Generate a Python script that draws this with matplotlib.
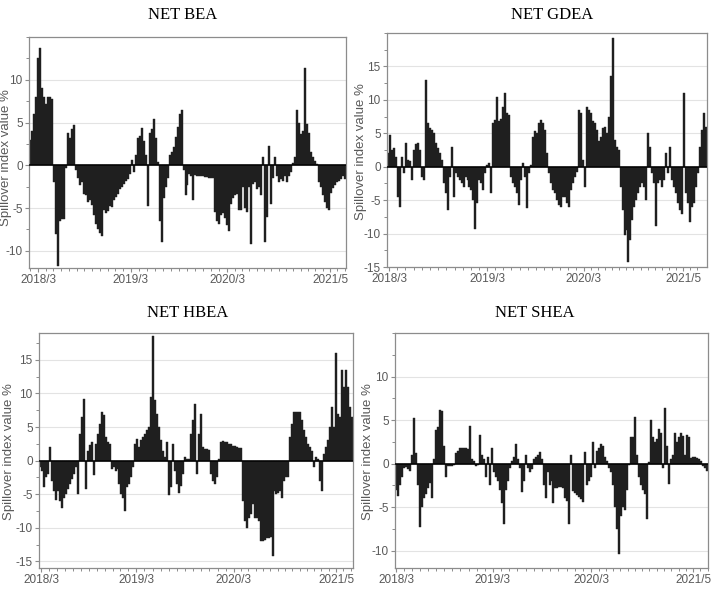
import matplotlib
matplotlib.use("Agg")
import matplotlib.pyplot as plt
import numpy as np
from matplotlib.ticker import MultipleLocator, FixedLocator

# net spillover values, one value per ~2 px column
bea = [3, 4, 6, 8, 12.5, 13.7, 9, 8, 7.2, 8, 8, 7.8, -2, -8, -11.8, -6.5, -6.3, -6.3, -0.3, 3.8,
       3.2, 4.3, 4.7, -0.5, -1.5, -2.3, -2.0, -3.3, -3.5, -4.3, -4.0, -4.6, -5.8, -6.8, -7.4, -7.9, -8.3, -5.2, -5.6, -5.3,
       -4.8, -4.9, -4.0, -3.7, -3.3, -2.8, -2.5, -2.2, -1.8, -1.6, -1.0, 0.6, -0.8, 1.2, 3.2, 3.4, 4.4, 2.8, 1.2, -4.7,
       3.8, 4.3, 5.4, 3.2, 0.4, -6.5, -9.0, -3.8, -2.5, -1.5, 1.2, 1.5, 2.2, 3.3, 4.5, 6.0, 6.5, -0.6, -3.5, -2.3,
       -1.0, -1.2, -4.0, -1.1, -1.2, -1.2, -1.3, -1.3, -1.4, -1.4, -1.5, -1.5, -1.5, -5.5, -6.5, -6.8, -5.8, -5.6, -6.2, -7.0,
       -7.7, -4.5, -3.8, -3.5, -3.3, -5.2, -5.2, -2.5, -5.0, -5.5, -2.5, -9.2, -2.2, -2.0, -2.8, -2.5, -3.5, 1.0, -9.0, -6.0,
       2.3, -4.5, -1.5, 1.0, -1.3, -2.0, -1.6, -1.8, -1.2, -2.0, -1.3, -0.8, 0.3, 1.0, 6.5, 5.0, 3.7, 4.0, 11.4, 4.8,
       3.8, 1.5, 1.0, 0.5, 0.2, -2.0, -2.5, -3.5, -4.3, -5.0, -5.2, -3.2, -2.7, -2.3, -2.0, -1.8, -1.6, -1.3, -1.6]

gdea = [2.0, 4.8, 2.5, 2.8, 1.5, -4.5, -6.0, 1.5, -1.0, 3.5, 1.0, 0.8, -2.0, 2.5, 3.4, 3.5, 2.5, -1.5, -2.0, 13.0,
        6.5, 5.8, 5.5, 5.0, 3.5, 2.8, 2.0, 1.0, -2.5, -4.0, -6.4, -1.5, 3.0, -4.5, -1.0, -1.5, -2.0, -2.5, -3.0, -1.5,
        -2.0, -3.0, -3.5, -5.0, -9.3, -5.5, -2.0, -2.5, -3.5, -1.0, 0.3, 0.5, -4.0, 6.5, 7.0, 10.5, 6.8, 7.2, 9.0, 11.0,
        8.0, 7.8, -1.5, -2.5, -3.0, -4.0, -5.8, -2.0, 0.5, -1.5, -6.2, -1.0, 0.3, 4.5, 5.3, 5.0, 6.5, 7.0, 6.5, 5.5,
        2.0, -1.0, -2.5, -3.5, -4.0, -5.0, -5.8, -6.0, -4.5, -4.5, -5.5, -6.0, -3.5, -2.5, -1.5, -0.8, 8.5, 8.0, 1.0, -3.1,
        9.0, 8.5, 8.0, 6.8, 6.5, 5.5, 3.8, 4.5, 5.8, 6.0, 5.0, 7.5, 13.5, 19.2, 4.0, 3.0, 2.5, -3.0, -6.5, -10.2,
        -9.5, -14.2, -11.0, -8.0, -6.0, -5.0, -4.0, -3.0, -2.5, -3.0, -5.0, 5.0, 3.0, -1.0, -2.5, -8.9, -2.5, -2.0, -3.0, -2.0,
        2.0, -1.0, 3.0, -2.0, -3.0, -4.0, -5.5, -6.5, -7.0, 11.1, -4.0, -5.5, -8.2, -6.0, -5.5, -3.0, -1.0, 3.0, 5.5, 8.0,
        6.0]

hbea = [-1.0, -1.5, -4.0, -2.5, -2.0, 2.0, -3.0, -4.5, -5.8, -4.5, -6.0, -7.0, -5.5, -5.0, -4.3, -3.5, -2.8, -2.0, -1.0, -5.0,
        4.0, 6.5, 9.2, -4.3, 1.5, 2.3, 2.8, -2.2, 2.5, 4.0, 5.5, 7.2, 6.8, 3.5, 2.8, 2.5, -1.3, -1.0, -1.5, -1.2,
        -3.5, -5.0, -5.5, -7.5, -4.0, -3.5, -2.5, -1.0, 2.5, 3.2, 2.0, 3.0, 3.5, 4.0, 4.5, 5.0, 9.5, 18.6, 9.0, 7.0,
        5.0, 3.0, 1.5, 0.5, 2.8, -5.2, -4.0, 2.5, -1.5, -3.5, -4.8, -3.8, -2.0, 0.5, 0.3, 0.3, 4.0, 6.0, 8.5, -2.0,
        4.0, 7.0, 2.0, 1.7, 1.7, 1.6, -2.0, -3.0, -3.5, -2.5, 0.3, 2.8, 2.9, 2.8, 2.7, 2.5, 2.4, 2.2, 2.1, 2.0,
        1.9, 1.8, -6.0, -9.0, -10.0, -8.5, -8.0, -6.5, -8.5, -8.5, -9.0, -12.0, -12.0, -11.8, -11.6, -11.5, -11.4, -14.2, -4.5, -5.0,
        -4.8, -4.5, -5.5, -3.0, -2.5, -2.5, 3.5, 5.5, 7.3, 7.3, 7.3, 7.3, 6.0, 4.5, 3.5, 2.5, 2.0, 1.5, -1.0, 0.5,
        0.3, -3.0, -4.5, 1.0, 2.0, 3.0, 5.0, 8.0, 5.0, 16.0, 7.0, 6.5, 13.5, 11.0, 13.5, 11.0, 8.0, 6.5]

shea = [-3.0, -3.7, -2.5, -1.5, -0.5, -0.4, -0.6, -0.9, 1.0, 5.2, 1.2, -2.5, -7.3, -5.0, -4.0, -3.5, -2.8, -2.2, -4.0, 0.5,
        3.8, 4.2, 6.1, 6.0, 2.0, -1.5, -0.3, -0.3, -0.3, -0.2, 1.2, 1.5, 1.8, 1.8, 1.8, 1.8, 1.7, 4.3, 0.5, 0.3,
        -0.3, -0.2, 3.3, 1.0, 0.5, -1.5, 0.8, -2.5, 1.8, -1.0, -1.5, -2.0, -3.0, -4.5, -7.0, -3.0, -2.0, -0.5, 0.3, 0.8,
        2.3, 0.5, -0.5, -3.3, -2.0, 1.0, -0.5, -1.0, -0.6, 0.5, 0.8, 1.0, 1.3, 0.5, -2.5, -4.0, -1.0, -2.5, -2.0, -4.5,
        -2.8, -2.8, -2.7, -2.7, -2.8, -4.0, -4.3, -7.0, 1.0, -3.2, -3.4, -3.6, -3.8, -4.1, -4.4, 1.3, -2.5, -2.0, -1.5, 2.5,
        -0.5, 1.5, 1.8, 2.2, 2.0, 0.8, 0.3, -0.5, -1.0, -2.5, -5.0, -7.5, -10.4, -6.0, -5.0, -5.3, -3.0, -0.2, 3.0, 3.0,
        5.3, 1.0, -1.5, -2.5, -3.0, -3.5, -6.4, 0.2, 5.0, 3.0, 2.5, 2.8, 4.0, 3.5, -0.5, 6.4, 2.0, -2.3, 0.5, 1.0,
        3.5, 2.5, 3.0, 3.5, 3.2, 1.0, 3.3, 3.0, 0.6, 0.7, 0.8, 0.6, 0.5, 0.3, -0.3, -0.5, -0.8]

titles = ["NET BEA", "NET GDEA", "NET HBEA", "NET SHEA"]
date_labels = ["2018/3", "2019/3", "2020/3", "2021/5"]
month_gaps = [12, 12, 14]

W, H = 713, 594
# axes boxes in pixels: left, top, right, bottom
boxes = [(29, 37, 346, 268), (387, 33, 707, 267), (39, 333, 353, 568), (395, 333, 708, 568)]
label_pos = [[4, 50.5, 99, 150.5], [0.5, 50, 98.5, 148.5], [0.5, 48.5, 97.5, 149], [0, 48.5, 98, 149]]
ylims = [(-12, 15), (-15, 20), (-16, 19), (-12, 15)]
ymaj = [[-10, -5, 0, 5, 10], [-15, -10, -5, 0, 5, 10, 15], [-15, -10, -5, 0, 5, 10, 15], [-10, -5, 0, 5, 10]]
title_xy = [(183, 15), (552, 15), (188, 313), (535, 313)]
ylab_xy = [(6, 158), (361, 152), (9, 452), (368, 452)]

plt.rcParams['axes.unicode_minus'] = False
gray = '#595959'

fig = plt.figure(figsize=(W / 100, H / 100), dpi=100)

def monthly(pos):
  ticks = []
  for k in range(3):
    ticks += list(np.linspace(pos[k], pos[k + 1], month_gaps[k] + 1)[:-1])
  step0 = (pos[1] - pos[0]) / 12
  step1 = (pos[3] - pos[2]) / 14
  ticks = [pos[0] - step0] + ticks + [pos[3], pos[3] + step1, pos[3] + 2 * step1]
  return ticks

for k, vals in enumerate([bea, gdea, hbea, shea]):
  l, t, r, b = boxes[k]
  ax = fig.add_axes([l / W, 1 - b / H, (r - l) / W, (b - t) / H])
  x = np.arange(len(vals))
  ax.bar(x, vals, width=1.0, color='#1f1f1f', edgecolor='#1f1f1f', linewidth=0.3)
  ax.axhline(0, color='black', lw=1.1, zorder=3)
  ax.set_xlim(-0.5, len(vals) - 0.5)
  ax.set_ylim(*ylims[k])

  ax.yaxis.set_major_locator(FixedLocator(ymaj[k]))
  ax.yaxis.set_minor_locator(MultipleLocator(2.5))
  ax.xaxis.set_major_locator(FixedLocator(label_pos[k]))
  ax.set_xticklabels(date_labels)
  ax.xaxis.set_minor_locator(FixedLocator([p for p in monthly(label_pos[k]) if -0.5 <= p <= len(vals) - 0.5]))
  ax.grid(axis='y', which='major', color='#e3e3e3', lw=0.8)
  ax.set_axisbelow(True)

  for s in ax.spines.values():
    s.set_color('#8c8c8c')
    s.set_linewidth(0.9)
  ax.tick_params(which='major', length=3, width=0.8, color='#8c8c8c', labelcolor=gray, labelsize=8.5, pad=1.5)
  ax.tick_params(which='minor', length=2.2, width=0.7, color='#8c8c8c')
  for lab in ax.get_xticklabels() + ax.get_yticklabels():
    lab.set_family('Liberation Sans')

  tx, ty = title_xy[k]
  fig.text(tx / W, 1 - ty / H, titles[k], ha='center', va='center',
           family='Liberation Serif', fontsize=12, color='black')
  lx, ly = ylab_xy[k]
  fig.text(lx / W, 1 - ly / H, "Spillover index value %", rotation=90, ha='center', va='center',
           family='Liberation Sans', fontsize=9.5, color=gray)

fig.savefig("out.png", dpi=100)
